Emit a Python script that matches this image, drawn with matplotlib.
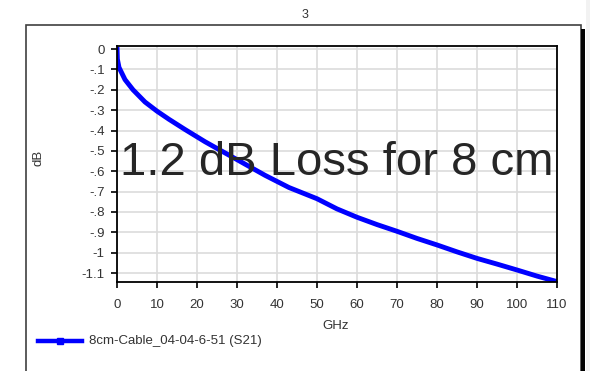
#!/usr/bin/env python3
"""
S21 insertion loss of an 8 cm cable
"""

import matplotlib.pyplot as plt
from matplotlib.patches import Rectangle
from matplotlib.lines import Line2D

freq_ghz = [0, 0.1, 0.5, 1, 2, 4, 7, 10, 13, 17, 22, 27, 32, 37, 43, 50,
            55, 60, 65, 70, 75, 80, 85, 90, 95, 100, 105, 110]
s21_db = [0.01, -0.05, -0.09, -0.11, -0.15, -0.20, -0.26, -0.305, -0.345,
          -0.395, -0.455, -0.51, -0.565, -0.62, -0.68, -0.735, -0.785,
          -0.826, -0.862, -0.895, -0.93, -0.962, -0.996, -1.028, -1.056,
          -1.085, -1.115, -1.142]

y_ticks = [0, -0.1, -0.2, -0.3, -0.4, -0.5, -0.6, -0.7, -0.8, -0.9, -1.0, -1.1]
y_labels = ['0', '-.1', '-.2', '-.3', '-.4', '-.5', '-.6', '-.7', '-.8',
            '-.9', '-1', '-1.1']
x_ticks = [0, 10, 20, 30, 40, 50, 60, 70, 80, 90, 100, 110]

series_name = '8cm-Cable_04-04-6-51 (S21)'
note = '1.2 dB Loss for 8 cm'


def main():
    plt.rcParams['font.family'] = ['Liberation Sans', 'DejaVu Sans']
    W, H = 590, 371
    fig = plt.figure(figsize=(W / 100, H / 100), dpi=100)
    txt = '#333333'

    def fx(px):
        return px / W

    def fy(py):
        return 1 - py / H

    # outer frame + shadow
    fig.patches.append(Rectangle((fx(26), fy(372)), fx(581) - fx(26),
                                 fy(25) - fy(372), transform=fig.transFigure,
                                 fill=False, edgecolor='#404040', lw=1.2))
    fig.patches.append(Rectangle((fx(581), fy(372)), fx(4), fy(29) - fy(372),
                                 transform=fig.transFigure,
                                 facecolor='black', edgecolor='none'))
    fig.patches.append(Rectangle((fx(586), 0), fx(4), 1,
                                 transform=fig.transFigure,
                                 facecolor='#f2f2f2', edgecolor='none'))

    ax = fig.add_axes([fx(117), fy(282), fx(557) - fx(117), fy(46) - fy(282)])
    ax.plot(freq_ghz, s21_db, color='#0000ff', lw=3.5, solid_capstyle='butt')
    ax.set_xlim(0, 110)
    ax.set_ylim(-1.144, 0.015)
    ax.set_xticks(x_ticks)
    ax.set_yticks(y_ticks)
    ax.set_yticklabels(y_labels)
    ax.grid(True, color='#dcdcdc', lw=1.2)
    ax.set_axisbelow(True)
    ax.tick_params(direction='out', length=4, width=1.2, colors='black',
                   labelcolor=txt, labelsize=9.5)
    ax.tick_params(axis='x', pad=8)
    ax.tick_params(axis='y', pad=5)
    for sp in ax.spines.values():
        sp.set_linewidth(1.3)
        sp.set_color('black')

    fig.text(fx(336), fy(326), 'GHz', ha='center', va='center', fontsize=9.5,
             color=txt)
    fig.text(fx(38), fy(158), 'dB', ha='center', va='center', fontsize=9.5,
             rotation=90, color=txt)
    fig.text(fx(305), fy(15), '3', ha='center', va='center', fontsize=9,
             color=txt)
    fig.text(fx(120), fy(175), note, ha='left', va='baseline', fontsize=34,
             color='#262626')

    # legend
    fig.add_artist(Line2D([fx(38), fx(82)], [fy(341), fy(341)],
                          transform=fig.transFigure, color='#0000ff', lw=3.2))
    fig.add_artist(Line2D([fx(60)], [fy(341)], transform=fig.transFigure,
                          color='#0000ff', marker='s', markersize=5, lw=0))
    fig.text(fx(89), fy(341), series_name, ha='left', va='center',
             fontsize=9.5, color=txt)

    fig.savefig('out.png', dpi=100)


if __name__ == "__main__":
    main()
